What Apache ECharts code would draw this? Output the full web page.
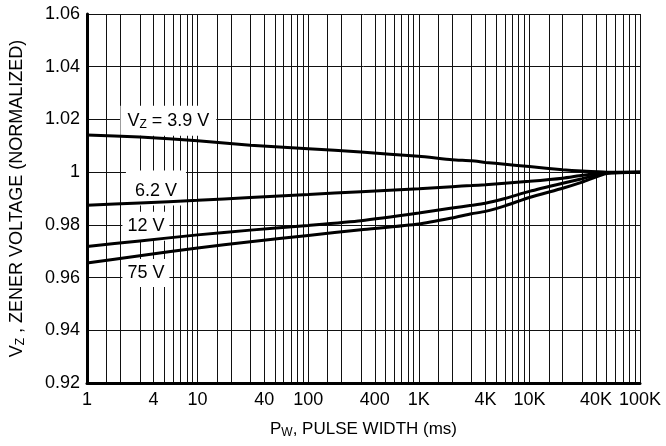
<!DOCTYPE html>
<html><head><meta charset="utf-8">
<script src="https://cdn.jsdelivr.net/npm/echarts@6/dist/echarts.min.js"></script>
<style>html,body{margin:0;padding:0;background:#fff}#c{width:666px;height:446px}</style>
</head><body><div id="c"></div>
<script>
// Pulse width (ms) sample points
const pulseWidth = [1, 3, 10, 30, 100, 300, 1000, 2000, 3000, 4000, 6000, 10000, 20000, 30000, 50000, 100000];
// Normalized zener voltage per nominal Vz
const vz39 = [1.0141, 1.0133, 1.0119, 1.0102, 1.0089, 1.0076, 1.0060, 1.0047, 1.0043, 1.0037, 1.0030, 1.0021, 1.0009, 1.0004, 1.0000, 1.0000];
const vz62 = [0.9874, 0.9883, 0.9893, 0.9904, 0.9915, 0.9926, 0.9937, 0.9945, 0.9949, 0.9952, 0.9958, 0.9965, 0.9977, 0.9988, 0.9999, 1.0000];
const vz12 = [0.9718, 0.9739, 0.9762, 0.9780, 0.9798, 0.9816, 0.9845, 0.9864, 0.9874, 0.9882, 0.9900, 0.9927, 0.9958, 0.9975, 0.9997, 1.0000];
const vz75 = [0.9655, 0.9683, 0.9712, 0.9736, 0.9760, 0.9781, 0.9803, 0.9826, 0.9842, 0.9851, 0.9872, 0.9904, 0.9939, 0.9962, 0.9995, 1.0000];
// Axis ticks / labels
const xLabelValues = [1, 4, 10, 40, 100, 400, 1000, 4000, 10000, 40000, 100000];
const xGridValues = [];
[1, 10, 100, 1000, 10000].forEach(d => { [1, 1.5, 2, 3, 4, 5, 6, 7, 8, 9].forEach(m => xGridValues.push(+(m * d).toPrecision(6))); });
xGridValues.push(100000);
const yMin = 0.92, yMax = 1.06, yStep = 0.02;
// Curve annotation labels
const labelText = ['V{sub|Z} = 3.9 V', '6.2 V', '12 V', '75 V'];
const labelPulse = [5.44, 4.2, 3.41, 3.41];
const labelVz = [1.0195, 0.9940, 0.9795, 0.9617];

const FONT = "'Liberation Sans', Arial, sans-serif";
const chart = echarts.init(document.getElementById('c'), null, {renderer: 'canvas'});
const curve = (name, vals) => ({
  name, type: 'line', z: 3, smooth: 0.2, symbol: 'none',
  lineStyle: {color: '#000', width: 3},
  data: pulseWidth.map((x, i) => [x, vals[i]])
});
const subStyle = {fontFamily: FONT, fontSize: 12, color: '#000', padding: [8, 0, 0, 0]};
const boxPad = [[5, 7, 5, 7], [12, 9, 5, 9], [5, 5, 6, 5], [5, 5, 5, 5]];
chart.setOption({
  animation: false,
  backgroundColor: '#fff',
  grid: {left: 86, right: 26, top: 14, bottom: 63, show: false},
  xAxis: {
    type: 'log', logBase: 10, min: 1, max: 100000,
    name: 'P{sub|W}, PULSE WIDTH (ms)', nameLocation: 'middle', nameGap: 36,
    nameTextStyle: {fontFamily: FONT, fontSize: 17, color: '#000', rich: {sub: subStyle}},
    axisLine: {show: true, onZero: false, lineStyle: {color: '#000', width: 3}},
    axisTick: {show: false, customValues: xGridValues},
    minorTick: {show: false},
    axisLabel: {customValues: xLabelValues, color: '#000', fontFamily: FONT, fontSize: 18, margin: 8,
      formatter: v => v >= 1000 ? (v / 1000) + 'K' : String(v)},
    splitLine: {show: true, lineStyle: {color: '#111', width: 1}}
  },
  yAxis: {
    type: 'value', min: yMin, max: yMax, interval: yStep,
    name: 'V{sub|Z} , ZENER VOLTAGE (NORMALIZED)', nameLocation: 'middle', nameGap: 60, nameRotate: 90,
    nameTextStyle: {fontFamily: FONT, fontSize: 18, color: '#000', rich: {sub: subStyle}},
    axisLine: {show: true, lineStyle: {color: '#000', width: 3}},
    axisTick: {show: false},
    axisLabel: {color: '#000', fontFamily: FONT, fontSize: 18, margin: 7,
      formatter: v => String(+v.toFixed(2))},
    splitLine: {show: true, lineStyle: {color: '#111', width: 1}}
  },
  series: [
    {
      type: 'scatter', z: 2, symbolSize: 0, silent: true,
      itemStyle: {opacity: 1},
      data: labelPulse.map((x, i) => ({value: [x, labelVz[i]], label: {padding: boxPad[i]}})),
      label: {
        show: true, position: 'inside', color: '#000', opacity: 1, fontFamily: FONT, fontSize: 18,
        backgroundColor: '#fff', textBorderWidth: 0,
        formatter: p => labelText[p.dataIndex],
        rich: {sub: subStyle}
      }
    },
    curve('3.9 V', vz39),
    curve('6.2 V', vz62),
    curve('12 V', vz12),
    curve('75 V', vz75)
  ]
});
</script></body></html>
